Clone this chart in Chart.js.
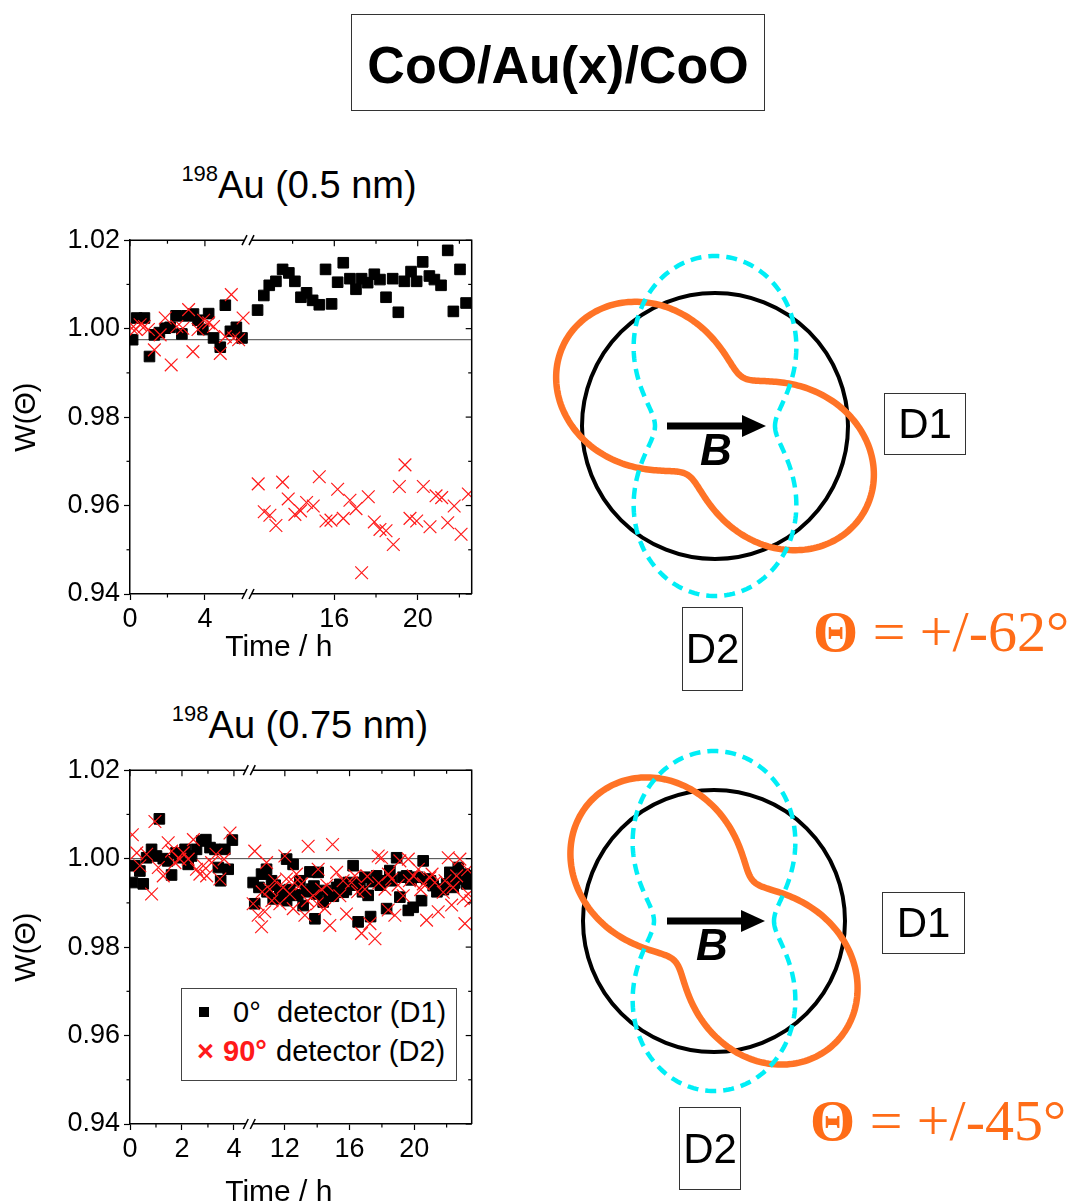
<!DOCTYPE html>
<html>
<head>
<meta charset="utf-8">
<script src="https://cdn.jsdelivr.net/npm/chart.js@4.4.1/dist/chart.umd.min.js"></script>
<style>
  body { margin: 0; background: #fff; font-family: "Liberation Sans", Arial, sans-serif; color: #000; }
  #page { position: relative; width: 1073px; height: 1204px; overflow: hidden; }
  .abs { position: absolute; }
  .box { position: absolute; border: 1px solid #333; box-sizing: border-box; display: flex; align-items: center; justify-content: center; }
  .ptitle { position: absolute; width: 400px; text-align: center; font-size: 38px; line-height: 38px; white-space: nowrap; }
  .ptitle span { font-size: 22px; position: relative; top: -17px; }
  .theta { position: absolute; font-family: "Liberation Serif", "Times New Roman", serif; font-size: 58px; line-height: 58px; color: #ff6c17; white-space: nowrap; }
  .theta b { font-weight: bold; }
  .legend { position: absolute; left: 181px; top: 988px; width: 276px; height: 93px; border: 1px solid #444; box-sizing: border-box; background: #fff; font-size: 29px; z-index: 5; }
  .legend div { position: absolute; white-space: nowrap; line-height: 29px; }
</style>
</head>
<body>
<div id="page">

  <div class="box" style="left:351px; top:14px; width:414px; height:97px; font-weight:bold; font-size:52px; padding-top:4px;">CoO/Au(x)/CoO</div>

  <div class="ptitle" style="left:99px; top:166px;"><span>198</span>Au (0.5 nm)</div>
  <div class="ptitle" style="left:100px; top:706px;"><span>198</span>Au (0.75 nm)</div>

  <div class="abs" style="left:0; top:220px; width:490px; height:446px;"><canvas id="chartTop"></canvas></div>
  <div class="abs" style="left:0; top:750px; width:490px; height:460px;"><canvas id="chartBot"></canvas></div>

  <div class="legend">
    <div style="left:17px; top:18px; width:10px; height:10px; background:#000;"></div>
    <div style="left:51px; top:9px;">0°</div>
    <div style="left:95px; top:9px;">detector (D1)</div>
    <div style="left:15px; top:48px; color:#ff1a1a; font-weight:bold;">×</div>
    <div style="left:41px; top:48px; color:#ff1a1a; font-weight:bold;">90°</div>
    <div style="left:94px; top:48px;">detector (D2)</div>
  </div>

  <canvas id="sketch" class="abs" style="left:540px; top:230px;" width="533" height="900"></canvas>

  <div class="box" style="left:884px; top:393px; width:82px; height:62px; font-size:42px;">D1</div>
  <div class="box" style="left:682px; top:607px; width:61px; height:84px; font-size:42px;">D2</div>
  <div class="theta" style="left:813px; top:603px;"><b>Θ</b> = +/-62°</div>

  <div class="box" style="left:882px; top:892px; width:83px; height:62px; font-size:42px;">D1</div>
  <div class="box" style="left:679px; top:1107px; width:62px; height:83px; font-size:42px;">D2</div>
  <div class="theta" style="left:810px; top:1092px;"><b>Θ</b> = +/-45°</div>

</div>
<script>
// ---- data: [time in h, W(Theta)] ----
const yTicks = [0.94, 0.96, 0.98, 1.00, 1.02];
const yMinor = [0.95, 0.97, 0.99, 1.01];

// 198Au (0.5 nm)
const topXTicks = [0, 4, 16, 20];
const topXMinor = [2, 14, 18, 22];
const topRef = 0.9975;
const topD1 = [
  [0.14,0.9975],[0.36,1.0024],[0.77,1.0024],[1.04,0.9937],[1.30,0.9986],[1.57,0.9991],[1.88,1.0001],
  [2.14,1.0003],[2.46,1.0029],[2.77,0.9988],[3.04,1.0029],[3.39,1.0033],[3.63,1.0019],[3.89,0.9998],
  [4.20,1.0034],[4.46,0.9979],[4.82,0.9958],[5.09,1.0053],[5.36,0.9994],[5.68,1.0003],[5.98,0.9979],
  [12.32,1.0042],[12.62,1.0075],[12.88,1.0098],[13.20,1.0107],[13.52,1.0134],[13.82,1.0126],[14.11,1.0107],
  [14.40,1.0071],[14.67,1.0081],[14.96,1.0064],[15.28,1.0054],[15.58,1.0134],[15.87,1.0056],[16.16,1.0105],
  [16.43,1.0149],[16.75,1.0113],[17.04,1.0089],[17.31,1.0113],[17.60,1.0104],[17.92,1.0123],[18.19,1.0111],
  [18.48,1.0071],[18.80,1.0113],[19.07,1.0037],[19.36,1.0107],[19.68,1.0129],[19.95,1.0107],[20.24,1.0151],
  [20.56,1.0119],[20.80,1.0111],[21.12,1.0098],[21.44,1.0177],[21.71,1.0039],[22.03,1.0134],[22.32,1.0058]
];
const topD2 = [
  [0.09,1.0001],[0.32,0.9999],[0.54,1.0009],[0.77,1.0005],[0.98,0.9998],[1.30,0.9952],[1.61,0.9986],
  [1.88,1.0024],[2.20,0.9918],[2.50,1.0005],[2.82,1.0001],[3.13,1.0043],[3.36,0.9948],[3.63,0.9998],
  [3.93,1.0019],[4.20,1.0013],[4.46,1.0005],[4.82,0.9944],[5.09,0.9982],[5.41,1.0077],[5.54,0.9979],
  [5.80,0.9975],[6.04,1.0024],
  [12.35,0.9649],[12.64,0.9586],[12.91,0.9578],[13.20,0.9555],[13.52,0.9653],[13.79,0.9615],[14.11,0.9580],
  [14.38,0.9588],[14.67,0.9607],[14.99,0.9599],[15.28,0.9665],[15.60,0.9565],[15.84,0.9567],[16.16,0.9637],
  [16.43,0.9571],[16.75,0.9612],[17.04,0.9593],[17.31,0.9448],[17.63,0.9620],[17.92,0.9563],[18.19,0.9546],
  [18.48,0.9543],[18.83,0.9512],[19.12,0.9643],[19.39,0.9692],[19.63,0.9571],[19.95,0.9565],[20.27,0.9643],
  [20.59,0.9552],[20.88,0.9622],[21.15,0.9618],[21.44,0.9561],[21.75,0.9599],[22.08,0.9535],[22.43,0.9626]
];

// 198Au (0.75 nm)
const botXTicks = [0, 2, 4, 12, 16, 20];
const botXMinor = [1, 3, 14, 18, 22];
const botRef = 1.000;
const botD1 = [
  [0.09,0.9946],[0.19,0.9984],[0.38,0.9972],[0.51,0.9943],[0.64,1.0002],[0.83,1.0021],[1.02,1.0006],
  [1.13,1.0090],[1.28,1.0000],[1.45,0.9995],[1.60,0.9963],[1.77,1.0013],[1.92,1.0002],[2.12,1.0021],
  [2.24,0.9987],[2.37,1.0006],[2.56,1.0021],[2.76,1.0040],[2.92,1.0043],[3.08,1.0025],[3.27,1.0021],
  [3.40,0.9980],[3.49,0.9950],[3.65,1.0021],[3.78,0.9976],[3.94,1.0042],
  [10.04,0.9946],[10.14,0.9898],[10.40,0.9935],[10.56,0.9965],[10.87,0.9976],[10.90,0.9925],[11.18,0.9950],
  [11.28,0.9909],[11.40,0.9940],[11.69,0.9928],[11.90,0.9912],[12.11,0.9999],[12.11,0.9905],[12.30,0.9930],
  [12.51,0.9987],[12.62,0.9917],[12.80,0.9918],[12.93,0.9950],[13.13,0.9894],[13.30,0.9925],[13.55,0.9970],
  [13.65,0.9931],[13.80,0.9938],[13.86,0.9864],[13.96,0.9920],[14.06,0.9969],[14.37,0.9902],[14.50,0.9928],
  [14.78,0.9920],[15.00,0.9915],[15.20,0.9935],[15.40,0.9942],[15.61,0.9924],[15.80,0.9930],[15.91,0.9946],
  [16.22,0.9984],[16.40,0.9940],[16.53,0.9857],[16.64,0.9946],[16.80,0.9925],[16.95,0.9958],[17.15,0.9917],
  [17.30,0.9869],[17.40,0.9948],[17.67,0.9961],[17.90,0.9940],[18.08,0.9950],[18.29,0.9887],[18.49,0.9973],
  [18.60,0.9950],[18.91,1.0002],[19.11,0.9913],[19.30,0.9958],[19.53,0.9961],[19.63,0.9883],[19.80,0.9952],
  [19.93,0.9890],[20.20,0.9958],[20.45,0.9905],[20.55,0.9995],[20.76,0.9954],[21.00,0.9950],[21.17,0.9939],
  [21.40,0.9925],[21.59,0.9931],[21.80,0.9930],[22.00,0.9943],[22.20,0.9969],[22.41,0.9935],[22.50,0.9945],
  [22.72,0.9980],[22.93,0.9954],[23.10,0.9965],[23.24,0.9943],[23.45,0.9961]
];
const botD2 = [
  [0.09,1.0054],[0.26,1.0013],[0.38,0.9984],[0.64,1.0010],[0.83,0.9920],[0.96,1.0084],[1.09,0.9980],
  [1.28,0.9961],[1.47,1.0036],[1.60,1.0017],[1.73,0.9991],[1.92,0.9999],[2.05,1.0013],[2.24,0.9999],
  [2.44,1.0043],[2.56,0.9976],[2.69,0.9965],[2.82,0.9984],[2.95,0.9961],[3.14,0.9991],[3.31,1.0010],
  [3.46,0.9954],[3.62,0.9999],[3.85,1.0058],
  [10.14,1.0017],[10.04,0.9898],[10.35,0.9872],[10.56,0.9846],[10.60,0.9925],[10.76,0.9880],[10.87,0.9991],
  [11.07,0.9931],[11.20,0.9905],[11.38,0.9950],[11.69,0.9898],[11.90,0.9935],[12.00,1.0006],[12.10,0.9954],
  [12.31,0.9920],[12.52,0.9887],[12.60,0.9945],[12.72,0.9965],[13.03,0.9943],[13.24,0.9872],[13.40,0.9905],
  [13.44,1.0028],[13.75,0.9916],[14.00,0.9898],[14.06,0.9976],[14.27,0.9931],[14.47,0.9887],[14.60,0.9940],
  [14.78,0.9849],[14.95,1.0032],[15.20,0.9969],[15.40,0.9916],[15.60,0.9950],[15.81,0.9875],[16.12,0.9946],
  [16.33,0.9961],[16.50,0.9925],[16.74,0.9831],[16.95,0.9931],[17.10,0.9960],[17.26,0.9853],[17.57,0.9819],
  [17.77,1.0006],[17.80,0.9945],[17.98,1.0002],[18.19,0.9931],[18.39,0.9884],[18.40,0.9965],[18.60,0.9954],
  [18.80,0.9872],[19.00,0.9940],[19.11,0.9995],[19.32,0.9916],[19.63,0.9999],[19.70,0.9950],[19.94,0.9961],
  [20.25,0.9976],[20.40,0.9930],[20.56,0.9943],[20.76,0.9861],[20.97,0.9957],[21.10,0.9965],[21.28,0.9946],
  [21.48,0.9880],[21.79,0.9924],[21.90,0.9950],[22.10,1.0002],[22.31,0.9895],[22.40,0.9935],[22.62,0.9961],
  [22.82,0.9999],[23.03,0.9910],[23.13,0.9853],[23.30,0.9975],[23.34,0.9920],[23.50,0.9905]
];

// ---- linear scale with an axis break ----
class BrokenScale extends Chart.LinearScale {
  getPixelForValue(value) {
    if (value === null || value === undefined || isNaN(value)) return NaN;
    const o = this.options;
    const f = o.breakFrac;
    let d;
    if (value <= o.breakFrom) d = (value - this.min) / (o.breakFrom - this.min) * f;
    else if (value >= o.breakTo) d = f + (value - o.breakTo) / (this.max - o.breakTo) * (1 - f);
    else d = f;
    return this.getPixelForDecimal(d);
  }
  getValueForPixel(pixel) {
    const o = this.options;
    const d = this.getDecimalForPixel(pixel);
    if (d <= o.breakFrac) return this.min + d / o.breakFrac * (o.breakFrom - this.min);
    return o.breakTo + (d - o.breakFrac) / (1 - o.breakFrac) * (this.max - o.breakTo);
  }
}
BrokenScale.id = 'broken';
BrokenScale.defaults = Chart.LinearScale.defaults;
Chart.register(BrokenScale);

// frame, minor ticks, break marks and x title
const framePlugin = {
  id: 'frame',
  afterDraw(chart, args, opts) {
    const { ctx, chartArea: a, scales: { x, y } } = chart;
    const seg = (x1, y1, x2, y2) => { ctx.beginPath(); ctx.moveTo(x1, y1); ctx.lineTo(x2, y2); ctx.stroke(); };
    ctx.save();
    ctx.strokeStyle = '#000';
    ctx.lineWidth = 1.5;
    ctx.beginPath();
    ctx.moveTo(a.left, a.top); ctx.lineTo(a.right, a.top); ctx.lineTo(a.right, a.bottom);
    ctx.stroke();
    ctx.lineWidth = 1.2;
    yTicks.forEach(v => { const p = y.getPixelForValue(v); seg(a.right - 6, p, a.right, p); });
    yMinor.forEach(v => {
      const p = y.getPixelForValue(v);
      seg(a.left - 3.5, p, a.left, p);
      seg(a.right - 3.5, p, a.right, p);
    });
    opts.xMajor.forEach(v => { const p = x.getPixelForValue(v); seg(p, a.top, p, a.top + 6); });
    opts.xMinor.forEach(v => {
      const p = x.getPixelForValue(v);
      seg(p, a.bottom, p, a.bottom + 3.5);
      seg(p, a.top, p, a.top + 3.5);
    });
    // break marks
    const bx = x.getPixelForValue(x.options.breakFrom);
    [a.top, a.bottom].forEach(yy => {
      ctx.fillStyle = '#fff';
      ctx.beginPath();
      ctx.moveTo(bx - 6, yy + 5); ctx.lineTo(bx - 1, yy - 5); ctx.lineTo(bx + 6, yy - 5); ctx.lineTo(bx + 1, yy + 5);
      ctx.closePath(); ctx.fill();
      ctx.lineWidth = 1.5;
      seg(bx - 6, yy + 5, bx - 1, yy - 5);
      seg(bx + 1, yy + 5, bx + 6, yy - 5);
    });
    // x axis title
    ctx.fillStyle = '#000';
    ctx.font = '30px "Liberation Sans", Arial, sans-serif';
    ctx.textAlign = 'center';
    ctx.textBaseline = 'middle';
    ctx.fillText('Time / h', (a.left + a.right) / 2 - 22, opts.titleY);
    ctx.restore();
  }
};

const font = '"Liberation Sans", Arial, sans-serif';
const pts = arr => arr.map(([x, y]) => ({ x, y }));

function makeChart(id, o) {
  return new Chart(document.getElementById(id), {
    type: 'scatter',
    data: {
      datasets: [
        { type: 'line', data: [{ x: o.xMin, y: o.ref }, { x: o.xMax, y: o.ref }],
          borderColor: '#444', borderWidth: 1, pointRadius: 0, order: 3 },
        { label: '0° detector (D1)', data: pts(o.d1), pointStyle: 'rect', pointRadius: 7.5,
          backgroundColor: '#000', borderColor: '#000', borderWidth: 1, order: 2 },
        { label: '90° detector (D2)', data: pts(o.d2), pointStyle: 'crossRot', pointRadius: 9,
          backgroundColor: '#ff1a1a', borderColor: '#ff1a1a', borderWidth: 1.2, order: 1 }
      ]
    },
    options: {
      responsive: true,
      maintainAspectRatio: false,
      animation: false,
      events: [],
      layout: { padding: { top: o.padTop, right: 18.3, left: 0, bottom: 0 } },
      plugins: {
        legend: { display: false },
        tooltip: { enabled: false },
        frame: { xMajor: o.xTicks, xMinor: o.xMinor, titleY: o.titleY }
      },
      scales: {
        x: {
          type: 'broken',
          min: o.xMin, max: o.xMax,
          breakFrom: o.brk[0], breakTo: o.brk[1], breakFrac: o.brkFrac,
          afterBuildTicks: s => { s.ticks = o.xTicks.map(v => ({ value: v })); },
          afterFit: s => { s.height = o.xHeight; },
          ticks: { autoSkip: false, maxRotation: 0, padding: 3, color: '#000',
                   font: { family: font, size: 27 }, callback: v => String(v) },
          grid: { drawOnChartArea: false, tickLength: 6, tickColor: '#000', tickWidth: 1.2 },
          border: { color: '#000', width: 1.5 }
        },
        y: {
          min: 0.94, max: 1.02,
          afterBuildTicks: s => { s.ticks = yTicks.map(v => ({ value: v })); },
          afterFit: s => { s.width = 130; },
          ticks: { padding: 4, color: '#000', font: { family: font, size: 27 }, callback: v => v.toFixed(2) },
          grid: { drawOnChartArea: false, tickLength: 6, tickColor: '#000', tickWidth: 1.2 },
          border: { color: '#000', width: 1.5 },
          title: { display: true, text: 'W(Θ)', color: '#000', font: { family: font, size: 29 }, padding: 10 }
        }
      }
    },
    plugins: [framePlugin]
  });
}

makeChart('chartTop', {
  d1: topD1, d2: topD2, ref: topRef, xTicks: topXTicks, xMinor: topXMinor,
  xMin: 0, xMax: 22.59, brk: [6.3, 11.86], brkFrac: 0.3453,
  padTop: 17, xHeight: 72, titleY: 428
});
makeChart('chartBot', {
  d1: botD1, d2: botD2, ref: botRef, xTicks: botXTicks, xMinor: botXMinor,
  xMin: 0, xMax: 23.55, brk: [4.59, 9.8], brkFrac: 0.349,
  padTop: 17.5, xHeight: 86, titleY: 443
});

// ---- schematic: detector geometry and angular distributions ----
(function () {
  const c = document.getElementById('sketch').getContext('2d');
  c.translate(-540, -230);
  function lobe(cx, cy, a, b, phi0) {
    c.beginPath();
    for (let i = 0; i <= 360; i++) {
      const t = i * Math.PI / 180;
      const k = Math.cos(t - phi0);
      const r = a + b * k * k;
      const px = cx + r * Math.cos(t), py = cy + r * Math.sin(t);
      if (i) c.lineTo(px, py); else c.moveTo(px, py);
    }
    c.closePath();
  }
  function panel(cx, cy, rc, phiOrange, ax0, ax1, bx, by) {
    c.setLineDash([]);
    c.strokeStyle = '#000'; c.lineWidth = 4;
    c.beginPath(); c.arc(cx, cy, rc, 0, Math.PI * 2); c.stroke();
    c.strokeStyle = '#ff7326'; c.lineWidth = 6.5;
    lobe(cx, cy, 56, 116, phiOrange); c.stroke();
    c.strokeStyle = '#00eef6'; c.lineWidth = 4.5; c.setLineDash([11, 7]);
    lobe(cx, cy, 60, 110, Math.PI / 2); c.stroke();
    c.setLineDash([]);
    // field arrow
    c.strokeStyle = '#000'; c.fillStyle = '#000'; c.lineWidth = 7;
    c.beginPath(); c.moveTo(ax0, cy); c.lineTo(ax1 - 18, cy); c.stroke();
    c.beginPath(); c.moveTo(ax1, cy); c.lineTo(ax1 - 24, cy - 11); c.lineTo(ax1 - 24, cy + 11); c.closePath(); c.fill();
    c.font = 'italic bold 44px "Liberation Sans", Arial, sans-serif';
    c.textAlign = 'center'; c.textBaseline = 'middle';
    c.fillText('B', bx, by);
  }
  panel(715, 426, 133, 30 * Math.PI / 180, 667, 766, 716, 453);
  panel(714, 921, 131, 45 * Math.PI / 180, 667, 765, 712, 948);
})();
</script>
</body>
</html>
